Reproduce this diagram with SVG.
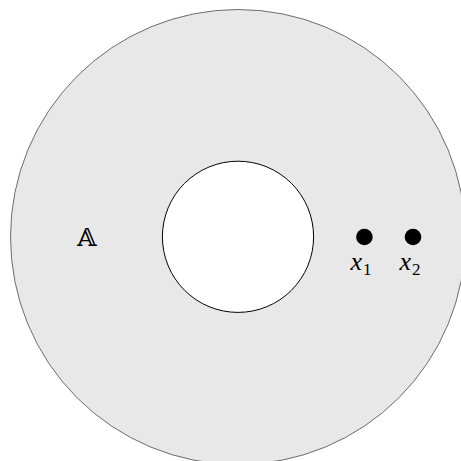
<svg xmlns="http://www.w3.org/2000/svg" width="461" height="461" viewBox="0 0 461 461">
<style>
.lbl{font-family:"Liberation Serif","DejaVu Serif",serif;font-size:26px;fill:#000}
.sub{font-size:17px}
</style>
<rect width="461" height="461" fill="#fff"/>
<g id="annulus">
<circle cx="238" cy="237" r="227.5" fill="#e8e8e8" stroke="#333" stroke-width="0.7"/>
<circle cx="238" cy="236.8" r="75.6" fill="#fff" stroke="#000" stroke-width="1"/>
</g>
<g id="A"><text x="87" y="246" text-anchor="middle" style="font-family:'DejaVu Serif','DejaVu Sans',serif;font-size:25px;fill:#000">𝔸</text></g>
<g id="x1">
<circle cx="364.4" cy="237" r="8.3" fill="#000"/>
<text class="lbl" x="350.5" y="270" font-style="italic">x<tspan class="sub" dx="1" dy="5" font-style="normal">1</tspan></text>
</g>
<g id="x2">
<circle cx="413" cy="237" r="8.3" fill="#000"/>
<text class="lbl" x="399.5" y="270" font-style="italic">x<tspan class="sub" dx="1" dy="5" font-style="normal">2</tspan></text>
</g>
</svg>
